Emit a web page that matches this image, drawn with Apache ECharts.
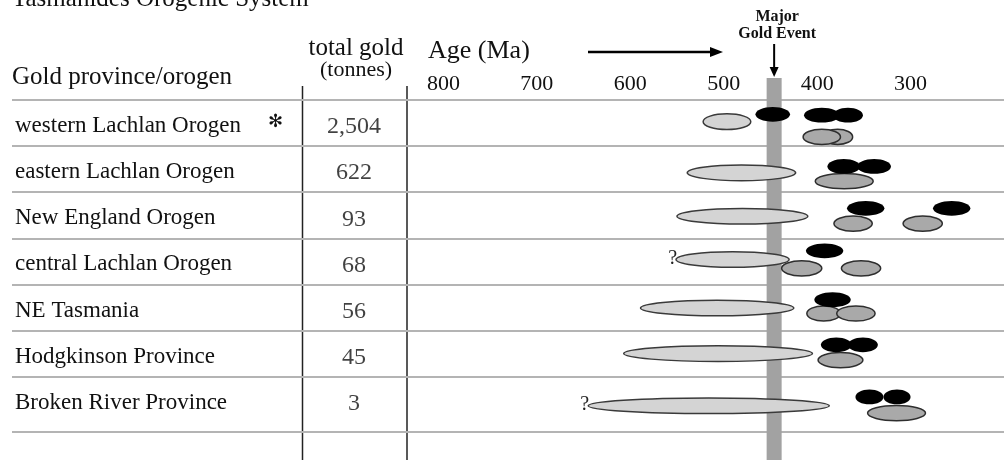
<!DOCTYPE html>
<html>
<head>
<meta charset="utf-8">
<script src="https://cdn.jsdelivr.net/npm/echarts@6/dist/echarts.min.js"></script>
<style>
  html, body { margin: 0; padding: 0; background: #fff; }
  #chart { width: 1005px; height: 460px; }
</style>
</head>
<body>
<div id="chart"></div>
<script>
const provinces = [
  'western Lachlan Orogen',
  'eastern Lachlan Orogen',
  'New England Orogen',
  'central Lachlan Orogen',
  'NE Tasmania',
  'Hodgkinson Province',
  'Broken River Province'
];
const goldTonnes = [2504, 622, 93, 68, 56, 45, 3];
const provinceNotes = ['\u273B', '', '', '', '', '', ''];
const ageTicks = [800, 700, 600, 500, 400, 300];
const majorGoldEvent = [446];

// [row position, older age (Ma), younger age (Ma), older limit uncertain]
const paleRanges = [
  [-0.03, 522, 471, 0],
  [1.08, 539, 423, 0],
  [2.02, 550, 410, 0],
  [2.96, 551, 430, 1],
  [4.01, 589, 425, 0],
  [5.0, 607, 405, 0],
  [6.13, 645, 387, 1]
];
// [row position, older age (Ma), younger age (Ma)]
const greyRanges = [
  [0.30, 394, 362],
  [0.30, 415, 375],
  [1.26, 402, 340],
  [2.18, 382, 341],
  [2.18, 308, 266],
  [3.15, 438, 395],
  [3.15, 374, 332],
  [4.13, 411, 375],
  [4.13, 379, 338],
  [5.14, 399, 351],
  [6.29, 346, 284]
];
const blackRanges = [
  [-0.19, 466, 429],
  [-0.17, 414, 376],
  [-0.17, 383, 351],
  [0.94, 389, 354],
  [0.94, 357, 321],
  [1.85, 368, 328],
  [1.85, 276, 236],
  [2.77, 412, 372],
  [3.83, 403, 364],
  [4.81, 396, 363],
  [4.81, 367, 335],
  [5.94, 359, 329],
  [5.94, 329, 300]
];

const SERIF = '"Liberation Serif", "DejaVu Serif", serif';
const ROW_MIN = -0.5;
const ROW_MAX = 6.7;
const rowEdges = provinces.map((_, i) => i - 0.5).concat([ROW_MAX]);
const rowCenters = provinces.map((_, i) => i);

const chart = echarts.init(document.getElementById('chart'), null, { renderer: 'canvas' });

const grids = [
  { left: 12, width: 290, top: 100, bottom: 28 },
  { left: 302, width: 104, top: 100, bottom: 28 },
  { left: 406, width: 598, top: 100, bottom: 28 }
];

function rowAxis(gridIndex, withLabels) {
  return {
    gridIndex,
    type: 'value',
    inverse: true,
    min: ROW_MIN,
    max: ROW_MAX,
    axisLine: { show: false },
    axisTick: { show: false, customValues: rowEdges },
    splitLine: { show: true, lineStyle: { color: '#b4b4b4', width: 2 } },
    axisLabel: withLabels ? {
      show: true,
      inside: true,
      margin: 3,
      customValues: rowCenters,
      formatter: (v) => {
        const i = Math.round(v);
        const note = provinceNotes[i];
        return '{n|' + provinces[i] + '}' + (note ? '{s|' + note + '}' : '');
      },
      rich: {
        n: { fontFamily: SERIF, fontSize: 23, color: '#111', width: 253, padding: [6, 0, 0, 0] },
        s: { fontFamily: 'DejaVu Sans', fontSize: 18, fontWeight: 'bold', color: '#111', padding: [0, 0, 1, 0] }
      }
    } : { show: false }
  };
}

function ellipseRender(ry, style) {
  return function (params, api) {
    const a = api.coord([api.value(1), api.value(0)]);
    const b = api.coord([api.value(2), api.value(0)]);
    const children = [{
      type: 'ellipse',
      shape: { cx: (a[0] + b[0]) / 2, cy: a[1], rx: Math.abs(b[0] - a[0]) / 2, ry: ry },
      style: style
    }];
    if (api.value(3) === 1) {
      children.push({
        type: 'text',
        style: {
          text: '?', x: a[0] + 1, y: a[1] - 1,
          align: 'right', verticalAlign: 'middle',
          font: '20px ' + SERIF, fill: '#222'
        }
      });
    }
    return { type: 'group', children };
  };
}

function renderEvent(params, api) {
  const p = api.coord([api.value(0), ROW_MIN]);
  const top = params.coordSys.y - 22;
  const x = p[0];
  return {
    type: 'group',
    children: [
      { type: 'rect', shape: { x: x - 7.5, y: top, width: 15, height: api.getHeight() - top },
        style: { fill: '#a2a2a2' } },
      { type: 'line', shape: { x1: x, y1: top - 34, x2: x, y2: top - 8 },
        style: { stroke: '#000', lineWidth: 2 } },
      { type: 'polygon', shape: { points: [[x - 4.5, top - 11], [x + 4.5, top - 11], [x, top - 1]] },
        style: { fill: '#000' } },
      { type: 'text', style: {
          text: 'Major\nGold Event', x: x + 3, y: top - 36,
          align: 'center', verticalAlign: 'bottom', lineHeight: 17,
          font: 'bold 16px ' + SERIF, fill: '#111' } }
    ]
  };
}

const option = {
  animation: false,
  backgroundColor: '#fff',
  grid: grids,
  xAxis: [
    { gridIndex: 0, type: 'value', min: 0, max: 1, show: false },
    { gridIndex: 1, type: 'value', min: 0, max: 1, show: false },
    {
      gridIndex: 2,
      type: 'value',
      inverse: true,
      min: 200,
      max: 840,
      position: 'top',
      axisLine: { show: false },
      axisTick: { show: false },
      splitLine: { show: false },
      axisLabel: {
        customValues: ageTicks,
        margin: 5,
        fontFamily: SERIF,
        fontSize: 22,
        color: '#111'
      }
    }
  ],
  yAxis: [rowAxis(0, true), rowAxis(1, false), rowAxis(2, false)],
  series: [
    {
      type: 'scatter',
      xAxisIndex: 1,
      yAxisIndex: 1,
      symbolSize: 1,
      itemStyle: { color: 'rgba(0,0,0,0)' },
      data: goldTonnes.map((t, i) => [0.5, i, t]),
      label: {
        show: true,
        position: 'inside',
        offset: [0, 4],
        formatter: (p) => p.value[2].toLocaleString('en-US'),
        fontFamily: SERIF,
        fontSize: 24,
        color: '#111'
      }
    },
    {
      type: 'custom',
      xAxisIndex: 2,
      yAxisIndex: 2,
      clip: false,
      z: 1,
      data: majorGoldEvent.map((a) => [a]),
      encode: { x: 0 },
      renderItem: renderEvent
    },
    {
      type: 'custom',
      xAxisIndex: 2,
      yAxisIndex: 2,
      z: 2,
      data: paleRanges,
      encode: { x: [1, 2], y: 0 },
      renderItem: ellipseRender(7.8, { fill: '#d4d4d4', stroke: '#3a3a3a', lineWidth: 1.5 })
    },
    {
      type: 'custom',
      xAxisIndex: 2,
      yAxisIndex: 2,
      z: 3,
      data: greyRanges,
      encode: { x: [1, 2], y: 0 },
      renderItem: ellipseRender(7.6, { fill: '#a9a9a9', stroke: '#2e2e2e', lineWidth: 1.5 })
    },
    {
      type: 'custom',
      xAxisIndex: 2,
      yAxisIndex: 2,
      z: 4,
      data: blackRanges,
      encode: { x: [1, 2], y: 0 },
      renderItem: ellipseRender(7.4, { fill: '#000' })
    }
  ],
  graphic: [
    { type: 'text', left: 12, top: -13, style: { text: 'Tasmanides Orogenic System', font: '25px ' + SERIF, fill: '#111' } },
    { type: 'text', x: 12, y: 77, style: { text: 'Gold province/orogen', font: '25px ' + SERIF, fill: '#111', verticalAlign: 'middle' } },
    { type: 'text', x: 356, y: 48, style: { text: 'total gold', font: '25px ' + SERIF, fill: '#111', align: 'center', verticalAlign: 'middle' } },
    { type: 'text', x: 356, y: 70, style: { text: '(tonnes)', font: '22px ' + SERIF, fill: '#111', align: 'center', verticalAlign: 'middle' } },
    { type: 'text', x: 428, y: 51, style: { text: 'Age (Ma)', font: '26px ' + SERIF, fill: '#111', verticalAlign: 'middle' } },
    { type: 'line', shape: { x1: 588, y1: 52, x2: 712, y2: 52 }, style: { stroke: '#000', lineWidth: 2.5 } },
    { type: 'polygon', shape: { points: [[710, 47], [723, 52], [710, 57]] }, style: { fill: '#000' } },
    { type: 'line', shape: { x1: 302.5, y1: 86, x2: 302.5, y2: 460 }, style: { stroke: '#222', lineWidth: 1.5 } },
    { type: 'line', shape: { x1: 407, y1: 86, x2: 407, y2: 460 }, style: { stroke: '#222', lineWidth: 1.5 } }
  ]
};

chart.setOption(option);
</script>
</body>
</html>
